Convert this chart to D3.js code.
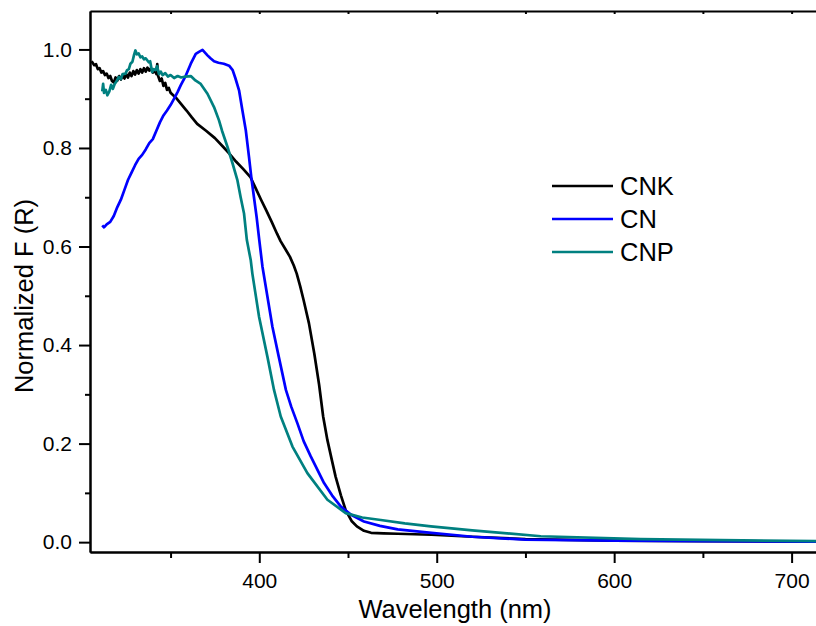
<!DOCTYPE html>
<html>
<head>
<meta charset="utf-8">
<script src="https://cdn.jsdelivr.net/npm/d3@7"></script>
<style>
  body { margin: 0; background: white; }
  text { font-family: "Liberation Sans", Arial, sans-serif; fill: black; }
</style>
</head>
<body>
<svg id="svg1"></svg>
<script>
// series: [wavelength nm, normalized F(R)]
var cnk = [[305.5,0.976],[307,0.968],[308,0.970],[309,0.960],[310,0.962],[311,0.953],[312,0.956],[313,0.948],[314,0.951],
  [315,0.942],[316,0.946],[317,0.936],[318,0.933],[319,0.943],[320,0.937],[321,0.946],[322,0.939],[323,0.948],[324,0.941],
  [325,0.950],[326,0.943],[327,0.953],[328,0.946],[329,0.956],[330,0.949],[331,0.958],[332,0.951],[333,0.960],[334,0.953],
  [335,0.962],[336,0.955],[337,0.963],[338,0.957],[339,0.962],[340,0.953],[341,0.958],[342,0.950],[342.5,0.970],[343,0.946],
  [344,0.936],[345,0.941],[346,0.926],[347,0.932],[348,0.918],[349,0.922],[350,0.912],[353,0.902],[356,0.889],[359,0.876],
  [362,0.862],[365,0.849],[370,0.835],[375,0.820],[380,0.801],[383,0.789],[387,0.772],[391,0.757],[395,0.741],[398,0.718],
  [401,0.695],[404,0.673],[407,0.650],[410,0.626],[412,0.611],[414.5,0.596],[417.3,0.579],[419.5,0.561],[421.1,0.545],
  [423,0.520],[425,0.491],[428,0.444],[431,0.383],[433.7,0.320],[436,0.255],[438.4,0.207],[441,0.165],[443,0.133],
  [446,0.095],[448.7,0.065],[452,0.043],[455,0.032],[459,0.023],[463,0.019],[470,0.018],[478,0.017],[497,0.015],
  [520,0.011],[550,0.006],[600,0.003],[650,0.002],[720,0.001]];

var cn = [[311.5,0.643],[312.5,0.639],[314,0.645],[316,0.650],[318,0.662],[320,0.680],[322,0.695],[324,0.715],[326,0.735],
  [328,0.750],[330,0.765],[332,0.778],[334,0.786],[336,0.797],[338,0.810],[340,0.818],[342,0.835],[344,0.852],[346,0.866],
  [348,0.876],[350,0.887],[352,0.900],[354,0.914],[355.7,0.927],[358.6,0.947],[361.4,0.971],[364.2,0.991],[366,0.995],
  [368,0.999],[370.8,0.988],[372.5,0.982],[374.5,0.976],[377,0.973],[380,0.971],[383,0.967],[385,0.958],[386.5,0.942],
  [388.6,0.917],[390.5,0.876],[392.4,0.836],[394.2,0.782],[395.5,0.741],[397,0.700],[398.5,0.660],[400,0.613],[401.8,0.559],
  [404.6,0.498],[407.4,0.437],[411,0.376],[415,0.309],[418,0.275],[421.5,0.241],[425,0.205],[429,0.174],[433,0.145],
  [436.5,0.120],[441,0.095],[446,0.072],[452,0.055],[459,0.042],[468,0.033],[478,0.026],[497,0.019],[520,0.011],
  [550,0.005],[600,0.003],[650,0.002],[720,0.001]];

var cnp = [[311.5,0.915],[312,0.930],[312.5,0.912],[313.5,0.918],[314.4,0.907],[315.5,0.915],[316.5,0.928],[317.5,0.920],
  [318.5,0.930],[319.5,0.935],[320.8,0.944],[322,0.940],[323,0.950],[324.6,0.951],[325.5,0.958],[326.5,0.960],[327.4,0.971],
  [328.5,0.975],[329.5,0.990],[330.2,0.998],[331,0.990],[332,0.992],[333,0.984],[334,0.986],[335,0.980],[336,0.982],
  [337.7,0.974],[338.5,0.976],[339.6,0.954],[340.5,0.960],[341.5,0.958],[342.4,0.966],[343.5,0.950],[344.5,0.955],
  [345.5,0.948],[347,0.952],[348.5,0.945],[350,0.948],[352,0.942],[354,0.946],[356,0.943],[358.4,0.945],[361.4,0.946],
  [364,0.937],[367,0.930],[370.8,0.910],[374.5,0.883],[377.3,0.856],[379,0.835],[382.1,0.802],[385,0.768],[387.7,0.734],
  [389.5,0.700],[391.4,0.667],[393,0.613],[395.2,0.572],[396.1,0.545],[399.9,0.457],[404.6,0.376],[408.3,0.309],
  [412.1,0.255],[418.7,0.194],[427.1,0.140],[438.4,0.086],[448.7,0.059],[458,0.050],[468.5,0.045],[482,0.038],
  [496.7,0.032],[520,0.024],[558.7,0.012],[615,0.006],[660,0.004],[720,0.002]];

var seriesNames = ["CNK", "CN", "CNP"];
var seriesColors = ["#000000", "#0000ff", "#008080"];
var xMajor = [400, 500, 600, 700];
var xMinor = [350, 450, 550, 650];
var yMajor = [0.0, 0.2, 0.4, 0.6, 0.8, 1.0];
var yMinor = [0.1, 0.3, 0.5, 0.7, 0.9];

var W = 816, H = 626;
//plot frame (the right side runs off the page like in the original)
var pLeft = 90, pRight = 820, pTop = 11, pBottom = 552;

var svg = d3.select("#svg1").attr("width", W).attr("height", H);

var x = d3.scaleLinear().domain([304.6, 716]).range([pLeft, pRight]);
var y = d3.scaleLinear().domain([-0.02, 1.078]).range([pBottom, pTop]);

// clip curves to plot area
svg.append("clipPath").attr("id", "clip")
  .append("rect").attr("x", pLeft).attr("y", pTop).attr("width", pRight - pLeft).attr("height", pBottom - pTop);

var line = d3.line()
  .x(function (d) { return x(d[0]); })
  .y(function (d) { return y(d[1]); });

[cnk, cn, cnp].forEach(function (s, i) {
  svg.append("path")
    .datum(s)
    .attr("clip-path", "url(#clip)")
    .attr("fill", "none")
    .attr("stroke", seriesColors[i])
    .attr("stroke-width", 2.7)
    .attr("stroke-linejoin", "round")
    .attr("d", line);
});

function styleAxis(g) {
  g.selectAll("path").attr("stroke", "black").attr("stroke-width", 2);
  g.selectAll("line").attr("stroke", "black").attr("stroke-width", 2);
  g.selectAll("text").attr("font-size", 21).attr("font-family", "Liberation Sans, Arial, sans-serif").attr("fill", "black");
}

// bottom axis
svg.append("g").attr("transform", "translate(0," + pBottom + ")")
  .call(d3.axisBottom(x).tickValues(xMinor).tickSize(6).tickFormat("").tickSizeOuter(0))
  .call(styleAxis);
svg.append("g").attr("transform", "translate(0," + pBottom + ")")
  .call(d3.axisBottom(x).tickValues(xMajor).tickSize(11).tickPadding(10).tickFormat(d3.format("d")).tickSizeOuter(0))
  .call(styleAxis);

// top axis, small inward ticks
svg.append("g").attr("transform", "translate(0," + pTop + ")")
  .call(d3.axisBottom(x).tickValues(xMajor.concat(xMinor)).tickSize(3).tickFormat("").tickSizeOuter(0))
  .call(styleAxis);

// left axis
svg.append("g").attr("transform", "translate(" + pLeft + ",0)")
  .call(d3.axisLeft(y).tickValues(yMinor).tickSize(5).tickFormat("").tickSizeOuter(0))
  .call(styleAxis);
svg.append("g").attr("transform", "translate(" + pLeft + ",0)")
  .call(d3.axisLeft(y).tickValues(yMajor).tickSize(11).tickPadding(7).tickFormat(d3.format(".1f")).tickSizeOuter(0))
  .call(styleAxis);

// axis titles
svg.append("text")
  .attr("x", (pLeft + pRight) / 2).attr("y", 618)
  .attr("text-anchor", "middle").attr("font-size", 25.5)
  .text("Wavelength (nm)");

svg.append("text")
  .attr("transform", "translate(33,296) rotate(-90)")
  .attr("text-anchor", "middle").attr("font-size", 25.5)
  .text("Normalized F (R)");

// legend
var legend = svg.append("g").attr("transform", "translate(552,186)");
seriesNames.forEach(function (n, i) {
  legend.append("line")
    .attr("x1", 0).attr("x2", 61)
    .attr("y1", i * 33).attr("y2", i * 33)
    .attr("stroke", seriesColors[i]).attr("stroke-width", 2.7);
  legend.append("text")
    .attr("x", 68).attr("y", i * 33).attr("dy", "0.35em")
    .attr("font-size", 25.5)
    .text(n);
});
</script>
</body>
</html>
